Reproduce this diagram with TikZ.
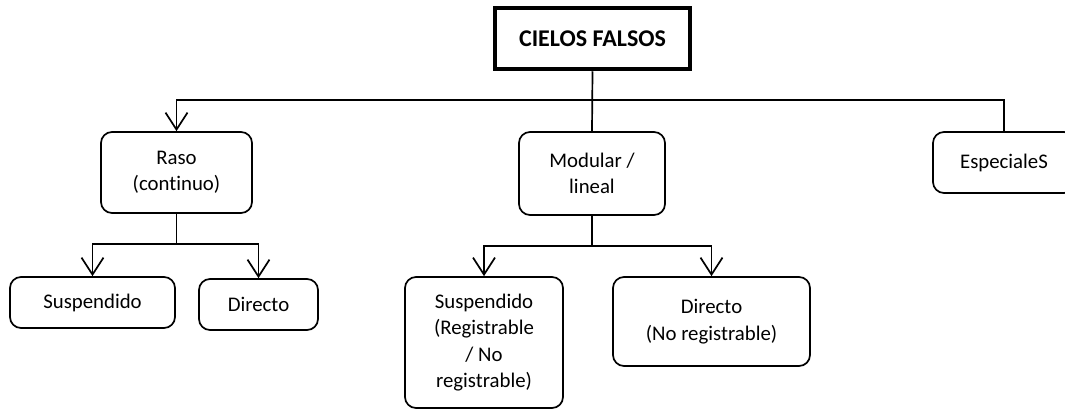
\documentclass[tikz,border=0pt]{standalone}
\usepackage{fontspec}
\setmainfont{Carlito}[Ligatures=NoCommon]
\usetikzlibrary{arrows.meta}
\begin{document}
\begin{tikzpicture}[x=1pt,y=-1pt,
  box/.style={draw,line width=1.7pt,rounded corners=11pt,align=center,inner sep=0pt,
    font=\fontsize{20.8}{26.5}\selectfont},
  link/.style={line width=1.7pt},
  arr/.style={link,-{Straight Barb[length=17pt,width=22pt,line width=1.7pt]}}]
\useasboundingbox (0,0) rectangle (1065,410);
\clip (0,0) rectangle (1065,410);
\node[draw,line width=4.5pt,minimum width=195pt,minimum height=61pt,inner sep=0pt,
  font=\bfseries\fontsize{24}{28}\selectfont] (top) at (592.5,38.5) {CIELOS FALSOS};
\node[box,minimum width=151pt,minimum height=81pt] (raso) at (176.5,172.5) {Raso\\(continuo)};
\node[box,minimum width=146pt,minimum height=83pt] (mod) at (592,173.5) {Modular /\\lineal};
\node[box,minimum width=142pt,minimum height=61pt] (esp) at (1004,162.5) {EspecialeS};
\node[box,minimum width=165pt,minimum height=51pt] (s1) at (92.5,302.5) {Suspendido};
\node[box,minimum width=119pt,minimum height=51pt] (d1) at (258.5,304.5) {Directo};
\node[box,minimum width=158pt,minimum height=131pt] (s2) at (484,342.5) {Suspendido\\(Registrable\\/ No\\registrable)};
\node[box,minimum width=197pt,minimum height=89pt] (d2) at (711.5,321.5) {Directo\\(No registrable)};
\coordinate (j) at (592,100);
\coordinate (rb) at (176.5,244);
\coordinate (mb) at (592,246);
\draw[link] (top.south) -- (mod.north);
\draw[arr] (j) -| (raso.north);
\draw[link] (j) -| (esp.north);
\draw[link] (raso.south) -- (rb);
\draw[arr] (rb) -| (s1.north);
\draw[arr] (rb) -| (d1.north);
\draw[link] (mod.south) -- (mb);
\draw[arr] (mb) -| (s2.north);
\draw[arr] (mb) -| (d2.north);
\end{tikzpicture}
\end{document}
